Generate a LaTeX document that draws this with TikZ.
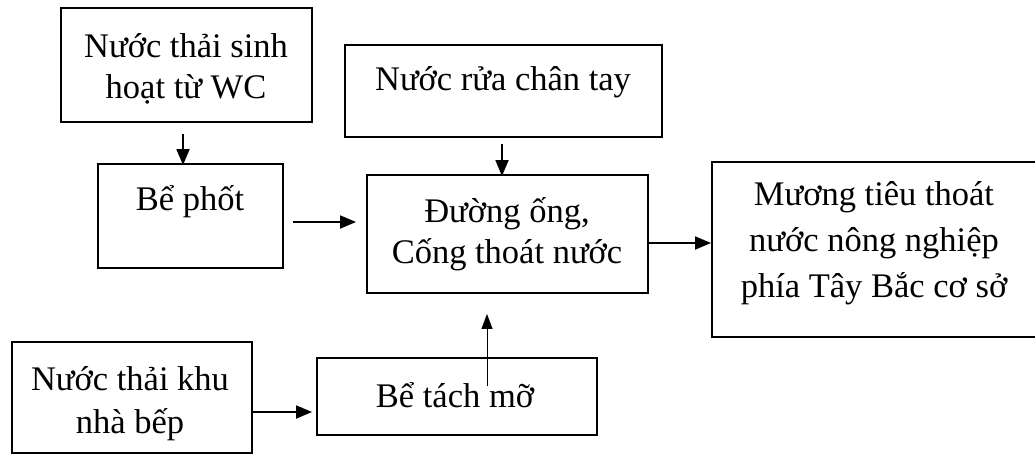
\documentclass[tikz,border=0pt]{standalone}
\usepackage{fontspec}
\setmainfont{Liberation Serif}
\usetikzlibrary{arrows.meta}
\begin{document}
\begin{tikzpicture}[x=1pt,y=-1pt,
  box/.style={draw,line width=1.9pt,inner sep=0pt},
  lbl/.style={font=\fontsize{34.5}{44}\selectfont,align=center,inner sep=0pt,anchor=base},
  flow/.style={line width=1.8pt,-{Triangle[length=16pt,width=13pt]}},
  thinflow/.style={line width=1pt,-{Triangle[length=15pt,width=11pt]}}]
\useasboundingbox (0,0) rectangle (1035,458);

% boxes
\node[box,minimum width=251pt,minimum height=114pt] (wc)    at (186.5,65)   {};
\node[box,minimum width=185pt,minimum height=104pt] (phot)  at (190.5,216)  {};
\node[box,minimum width=317pt,minimum height=92pt]  (rua)   at (503.5,91)   {};
\node[box,minimum width=281pt,minimum height=118pt] (duong) at (507.5,234)  {};
\node[box,minimum width=333pt,minimum height=175pt] (muong) at (878.5,249.5){};
\node[box,minimum width=240pt,minimum height=111pt] (bep)   at (132,397.5)  {};
\node[box,minimum width=280pt,minimum height=77pt]  (tach)  at (457,396.5)  {};

% labels
\node[lbl] (wcT1)    at (186,57)  {Nước thải sinh};
\node[lbl] (wcT2)    at (186,98)  {hoạt từ WC};
\node[lbl] (photT)   at (190,210) {Bể phốt};
\node[lbl] (ruaT)    at (503,90)  {Nước rửa chân tay};
\node[lbl] (duongT1) at (507,222) {Đường ống,};
\node[lbl] (duongT2) at (507,263) {Cống thoát nước};
\node[lbl] (muongT1) at (874,205) {Mương tiêu thoát};
\node[lbl] (muongT2) at (874,251) {nước nông nghiệp};
\node[lbl] (muongT3) at (874,297) {phía Tây Bắc cơ sở};
\node[lbl] (bepT1)   at (130,390) {Nước thải khu};
\node[lbl] (bepT2)   at (130,433) {nhà bếp};
\node[lbl] (tachT)   at (455,407) {Bể tách mỡ};

% connectors
\draw[flow,shorten <=11pt] ([xshift=-3.5pt]wc.south) -- ([xshift=-7.5pt,yshift=-2pt]phot.north);
\draw[flow,shorten <=6pt] ([xshift=-1.5pt]rua.south) -- ([xshift=-5.5pt,yshift=-2pt]duong.north);
\draw[flow,shorten <=9pt,shorten >=10pt] ([yshift=-6pt]phot.east) -- ([yshift=12pt]duong.west);
\draw[flow] ([yshift=-9pt]duong.east) -- ([yshift=6.5pt]muong.west);
\draw[flow,shorten >=4pt] ([yshift=-14.5pt]bep.east) -- ([yshift=-15.5pt]tach.west);
\draw[thinflow,shorten >=20pt] ([xshift=30pt,yshift=-29pt]tach.north) -- ([xshift=-20.5pt]duong.south);
\end{tikzpicture}
\end{document}
